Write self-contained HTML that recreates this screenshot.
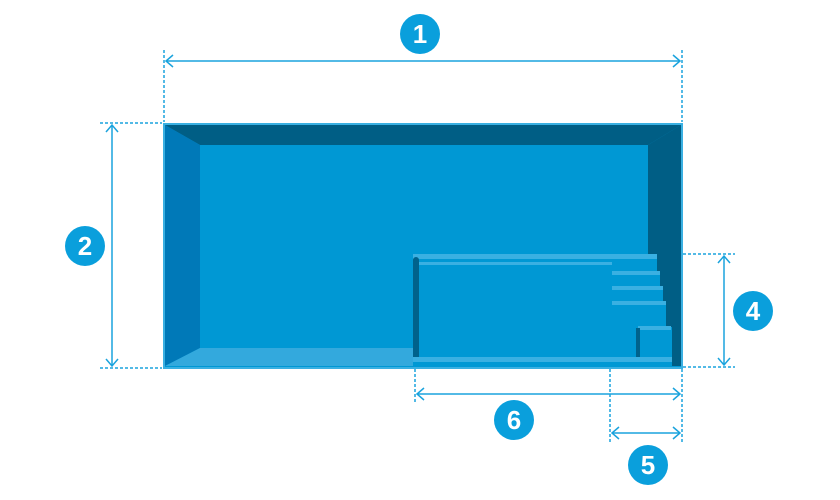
<!DOCTYPE html>
<html><head><style>body{margin:0;background:#fff}svg{display:block}</style></head><body>
<svg width="840" height="500" viewBox="0 0 840 500" xmlns="http://www.w3.org/2000/svg" font-family="Liberation Sans, sans-serif">
<!-- pool -->
<rect x="163" y="123" width="520" height="246" fill="#3ab0e2"/>
<rect x="165" y="125" width="516" height="242" fill="#0098d4"/>
<polygon points="165,125 681,125 648,145 200,145" fill="#005e85"/>
<polygon points="165,125 200,145 200,348 165,366" fill="#0079b8"/>
<polygon points="165,366 200,348 413,348 413,366" fill="#33a9dd"/>
<polygon points="681,125 681,366 672,366 672,327 666,327 666,302 663,302 663,287 660,287 660,272 657,272 657,258 648,258 648,145" fill="#005e85"/>
<!-- bench -->
<rect x="413" y="254" width="244" height="5" fill="#3ab0e2"/>
<rect x="413" y="257" width="6" height="104" rx="3" fill="#00628c"/>
<rect x="419" y="262" width="193" height="3" fill="#3ab0e2"/>
<rect x="612" y="271" width="48" height="4" fill="#3ab0e2"/>
<rect x="612" y="286" width="51" height="4" fill="#3ab0e2"/>
<rect x="612" y="301" width="54" height="4" fill="#3ab0e2"/>
<rect x="638" y="326" width="33" height="4" fill="#3ab0e2"/>
<rect x="636" y="328" width="4" height="33" fill="#00628c"/>
<rect x="413" y="357" width="259" height="5" fill="#3ab0e2"/>
<!-- dimension lines -->
<g stroke="#1aa3dd" stroke-width="1.5" fill="none">
<line x1="164" y1="50" x2="164" y2="122" stroke-dasharray="3,2"/>
<line x1="682" y1="50" x2="682" y2="122" stroke-dasharray="3,2"/>
<line x1="166" y1="61" x2="680" y2="61"/>
<polyline points="173,55 166,61 173,67"/><polyline points="673,55 680,61 673,67"/>
<line x1="100" y1="123" x2="162" y2="123" stroke-dasharray="3,2"/>
<line x1="100" y1="368" x2="162" y2="368" stroke-dasharray="3,2"/>
<line x1="112" y1="125" x2="112" y2="366"/>
<polyline points="106,132 112,125 118,132"/><polyline points="106,359 112,366 118,359"/>
<line x1="683" y1="254" x2="735" y2="254" stroke-dasharray="3,2"/>
<line x1="683" y1="367" x2="735" y2="367" stroke-dasharray="3,2"/>
<line x1="724" y1="256" x2="724" y2="365"/>
<polyline points="718,263 724,256 730,263"/><polyline points="718,358 724,365 730,358"/>
<line x1="415" y1="369" x2="415" y2="402" stroke-dasharray="3,2"/>
<line x1="610" y1="369" x2="610" y2="443" stroke-dasharray="3,2"/>
<line x1="682" y1="369" x2="682" y2="443" stroke-dasharray="3,2"/>
<line x1="417" y1="394" x2="680" y2="394"/>
<polyline points="424,388 417,394 424,400"/><polyline points="673,388 680,394 673,400"/>
<line x1="612" y1="433" x2="680" y2="433"/>
<polyline points="619,427 612,433 619,439"/><polyline points="673,427 680,433 673,439"/>
</g>
<!-- badges -->
<g fill="#0a9fdc">
<circle cx="420" cy="34" r="20"/><circle cx="85" cy="246" r="20"/>
<circle cx="753" cy="311" r="20"/><circle cx="514" cy="420" r="20"/>
<circle cx="648" cy="465" r="20"/>
</g>
<g fill="#fff" font-size="26" font-weight="bold" text-anchor="middle">
<text x="420" y="43">1</text><text x="85" y="255">2</text>
<text x="753" y="320">4</text><text x="514" y="429">6</text>
<text x="648" y="474">5</text>
</g>
</svg>
</body></html>
